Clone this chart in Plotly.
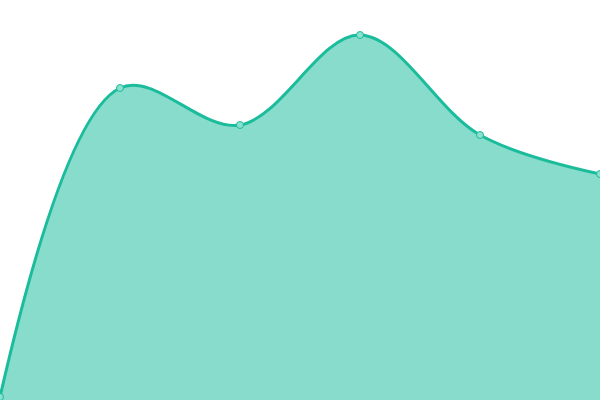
import plotly.graph_objects as go

x_vals = [0, 1, 2, 3, 4, 5]
y_vals = [3, 312, 275, 365, 265, 226]

fig = go.Figure()
fig.add_trace(go.Scatter(
    x=x_vals, y=y_vals,
    mode='lines+markers',
    line=dict(color='#1abc9c', width=3, shape='spline', smoothing=1),
    fill='tozeroy',
    fillcolor='rgba(26,188,156,0.52)',
    marker=dict(size=7, color='#8ce0cf', line=dict(color='#1abc9c', width=1)),
    hoverinfo='skip',
))

fig.update_layout(
    width=600, height=400,
    margin=dict(l=0, r=0, t=0, b=0),
    paper_bgcolor='white', plot_bgcolor='white',
    showlegend=False,
    xaxis=dict(range=[0, 5], visible=False),
    yaxis=dict(range=[0, 400], visible=False),
)

# page body has a default 8px margin, drop it so the chart fills the window
fig.write_html("out.html", config={'displayModeBar': False},
               post_script="document.body.style.margin='0';")
